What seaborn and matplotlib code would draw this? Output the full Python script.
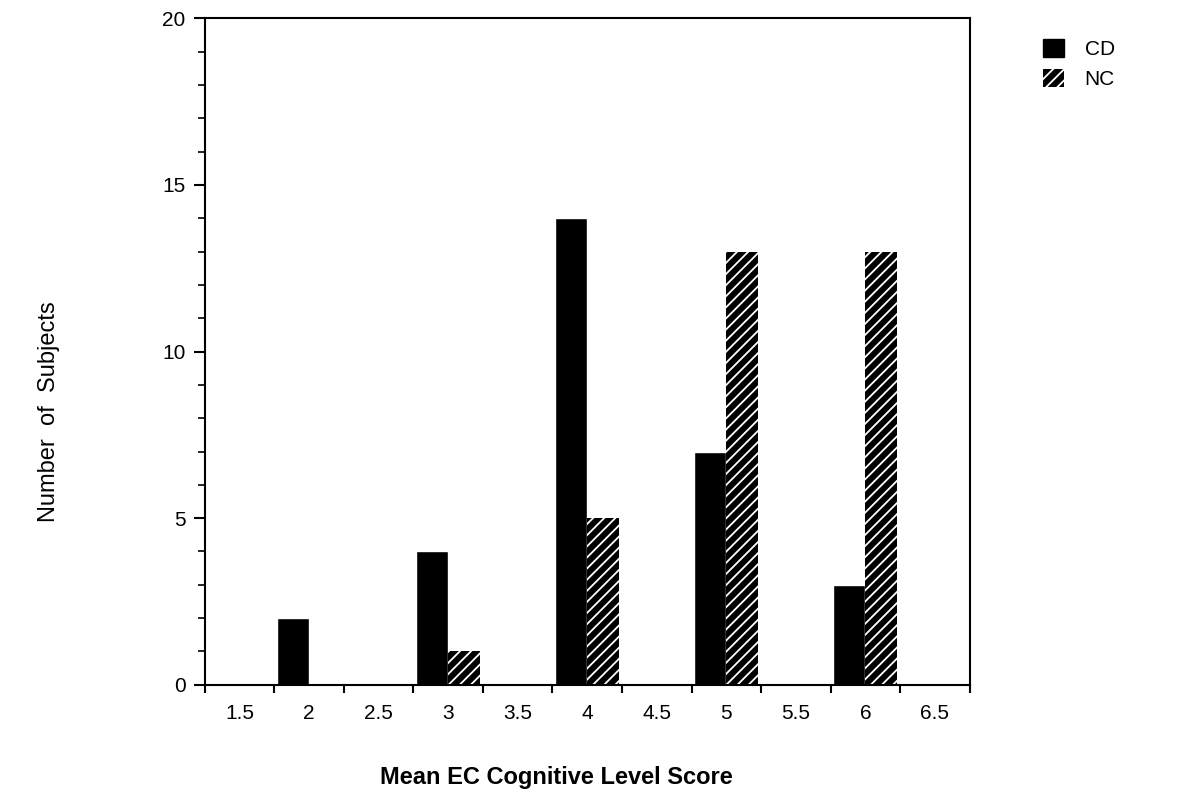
import matplotlib
matplotlib.use('Agg')
import matplotlib.pyplot as plt
from matplotlib.ticker import MultipleLocator, FixedLocator, NullFormatter
from matplotlib.patches import Patch
import seaborn as sns
import pandas as pd
import numpy as np

# data
scores = ['1.5', '2', '2.5', '3', '3.5', '4', '4.5', '5', '5.5', '6', '6.5']
cd_counts = [0, 2, 0, 4, 0, 14, 0, 7, 0, 3, 0]
nc_counts = [0, 0, 0, 1, 0, 5, 0, 13, 0, 13, 0]
groups = ['CD', 'NC']

df = pd.DataFrame({
    'score': scores * 2,
    'count': cd_counts + nc_counts,
    'group': [groups[0]] * len(scores) + [groups[1]] * len(scores),
})

sns.set_style('ticks')
plt.rcParams['font.family'] = ['Liberation Sans', 'DejaVu Sans']
plt.rcParams['hatch.linewidth'] = 1.3
for key in ['text.color', 'axes.labelcolor', 'xtick.color', 'ytick.color', 'axes.edgecolor']:
    plt.rcParams[key] = 'black'

fig = plt.figure(figsize=(11.84, 7.99), dpi=100)
ax = fig.add_axes([0.173, 0.143, 0.646, 0.834])

sns.barplot(data=df, x='score', y='count', hue='group', order=scores,
            hue_order=groups, palette=['black', 'black'], width=0.92,
            saturation=1, legend=False, ax=ax)

# hatch the NC bars: black face with white diagonal stripes
for bar in ax.containers[1]:
    bar.set_facecolor('black')
    bar.set_edgecolor('white')
    bar.set_hatch('///')
    bar.set_linewidth(0)

ax.set_xlim(-0.5, len(scores) - 0.5)
ax.set_ylim(0, 20)
ax.yaxis.set_major_locator(MultipleLocator(5))
ax.yaxis.set_minor_locator(MultipleLocator(1))

# x ticks sit on the category boundaries, labels at the centres
ax.xaxis.set_major_locator(FixedLocator(np.arange(len(scores))))
ax.set_xticklabels(scores)
ax.tick_params(axis='x', which='major', length=0, pad=14, labelsize=15)
ax.xaxis.set_minor_locator(FixedLocator(np.arange(-0.5, len(scores), 1.0)))
ax.xaxis.set_minor_formatter(NullFormatter())
ax.tick_params(axis='x', which='minor', length=6, width=1.5, direction='out')
ax.tick_params(axis='y', which='major', length=8, width=1.5, labelsize=15, pad=6)
ax.tick_params(axis='y', which='minor', length=5, width=1.2)

for side in ['top', 'right', 'left', 'bottom']:
    ax.spines[side].set_visible(True)
    ax.spines[side].set_linewidth(1.5)

ax.set_xlabel('Mean EC Cognitive Level Score', fontsize=17, fontweight='bold')
ax.xaxis.set_label_coords(0.46, -0.122)
ax.set_ylabel('Number  of  Subjects', fontsize=17)
ax.yaxis.set_label_coords(-0.19, 0.41)

handles = [Patch(facecolor='black', edgecolor='black'),
           Patch(facecolor='black', edgecolor='white', hatch='///', linewidth=0)]
fig.legend(handles, groups, loc='upper left', bbox_to_anchor=(0.865, 0.975),
           frameon=False, fontsize=15, handlelength=1.0, handleheight=1.0,
           handletextpad=1.0, labelspacing=0.45)

fig.savefig('out.png', dpi=100)
